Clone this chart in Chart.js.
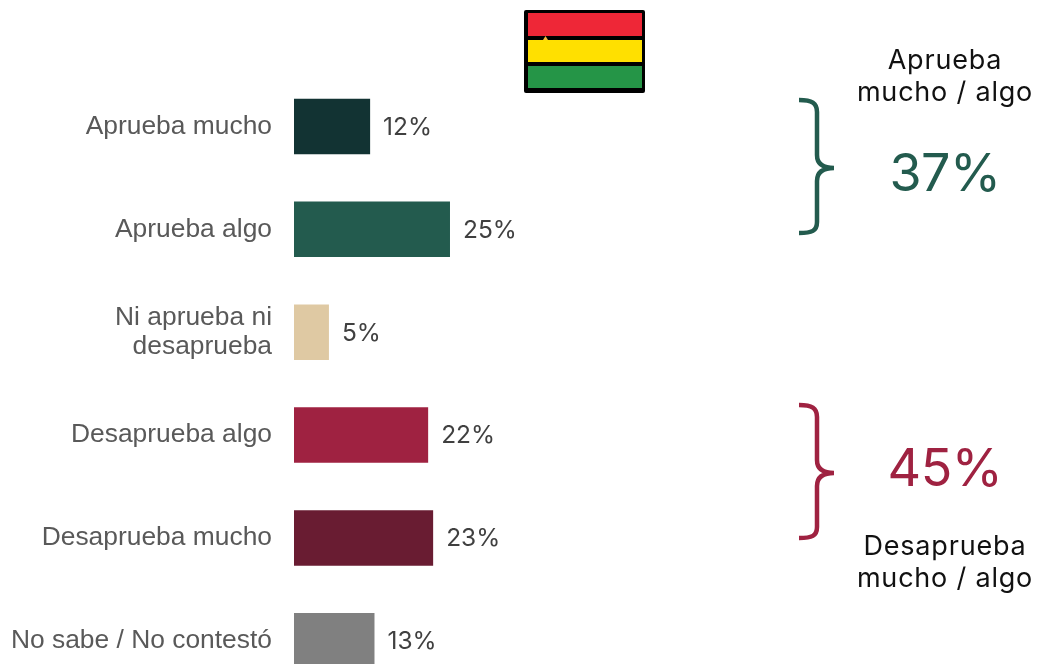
<!DOCTYPE html>
<html lang="es"><head><meta charset="utf-8">
<script src="https://cdn.jsdelivr.net/npm/chart.js@4"></script>
<style>
html,body{margin:0;padding:0;background:#fff;width:1039px;height:664px;overflow:hidden}
#wrap{position:relative;width:1039px;height:664px;overflow:hidden}
#c{position:absolute;left:0;top:0}
svg{position:absolute;left:0;top:0}
.t{position:absolute;text-align:center;font-family:Inter,sans-serif;white-space:nowrap;transform:translateX(-50%)}
.h{font-size:27px;line-height:32px;color:#111;left:945px;letter-spacing:.8px}
.b{font-size:52px;line-height:60px;left:945px;font-weight:400;letter-spacing:-.5px}
</style></head><body>
<div id="wrap">
<canvas id="c" width="1039" height="729" style="width:1039px;height:729px"></canvas>
<svg width="1039" height="664" viewBox="0 0 1039 664">
<g>
<rect x="524" y="10" width="121" height="83" rx="2" fill="#000"/>
<rect x="528" y="13" width="114" height="23" fill="#EE2737"/>
<rect x="528" y="40" width="114" height="22" fill="#FFE000"/>
<rect x="528" y="66" width="114" height="22" fill="#259547"/>
<path d="M543 40 L545.5 36 L548 40 Z" fill="#F6B73C"/>
</g>
<path d="M799 100 C812 100 817 103 817 112 L817 155 C817 163 822 168 834 168 C822 168 817 173 817 181 L817 222 C817 231 812 233 799 233" fill="none" stroke="#235B4E" stroke-width="4.5"/>
<path d="M799 405 C812 405 817 408 817 417 L817 460 C817 468 822 473 834 473 C822 473 817 478 817 486 L817 527 C817 536 812 538 799 538" fill="none" stroke="#9F2241" stroke-width="4.5"/>
</svg>
<div class="t h" style="top:44px">Aprueba<br>mucho / algo</div>
<div class="t b" style="top:143px;color:#235B4E">37%</div>
<div class="t b" style="top:438px;color:#9F2241">45%</div>
<div class="t h" style="top:530px">Desaprueba<br>mucho / algo</div>
</div>
<script>
const categories = ["Aprueba mucho","Aprueba algo",["Ni aprueba ni","desaprueba"],"Desaprueba algo","Desaprueba mucho","No sabe / No contestó"];
const barValues = [12.2,25,5.6,21.5,22.3,12.9];
const shownLabels = ["12%","25%","5%","22%","23%","13%"];
const barColors = ["#123333","#235B4E","#DFC9A3","#9F2241","#691C32","#808080"];

const valueLabels = {
  id:"valueLabels",
  afterDatasetsDraw(chart){
    const {ctx} = chart, meta = chart.getDatasetMeta(0);
    ctx.save();
    ctx.font = '400 24.5px Inter';
    ctx.fillStyle = "#404040";
    ctx.textAlign = "left";
    ctx.textBaseline = "middle";
    meta.data.forEach((bar,i)=>ctx.fillText(shownLabels[i], bar.x+13, bar.y+1));
    ctx.restore();
  }
};

new Chart(document.getElementById("c"),{
  type:"bar",
  data:{labels:categories,datasets:[{data:barValues,backgroundColor:barColors,borderWidth:0,categoryPercentage:1,barPercentage:0.54}]},
  plugins:[valueLabels],
  options:{
    indexAxis:"y",responsive:false,animation:false,
    layout:{padding:{top:75,bottom:0,left:0,right:0}},
    plugins:{legend:{display:false},tooltip:{enabled:false}},
    scales:{
      x:{display:false,min:0,max:119.4},
      y:{
        afterFit(s){s.width=294;},
        grid:{display:false,drawTicks:false},border:{display:false},
        ticks:{padding:22,color:"#595959",font:{family:'"Liberation Sans"',size:26.4,lineHeight:1.12},autoSkip:false}
      }
    }
  }
});
</script>
</body></html>
